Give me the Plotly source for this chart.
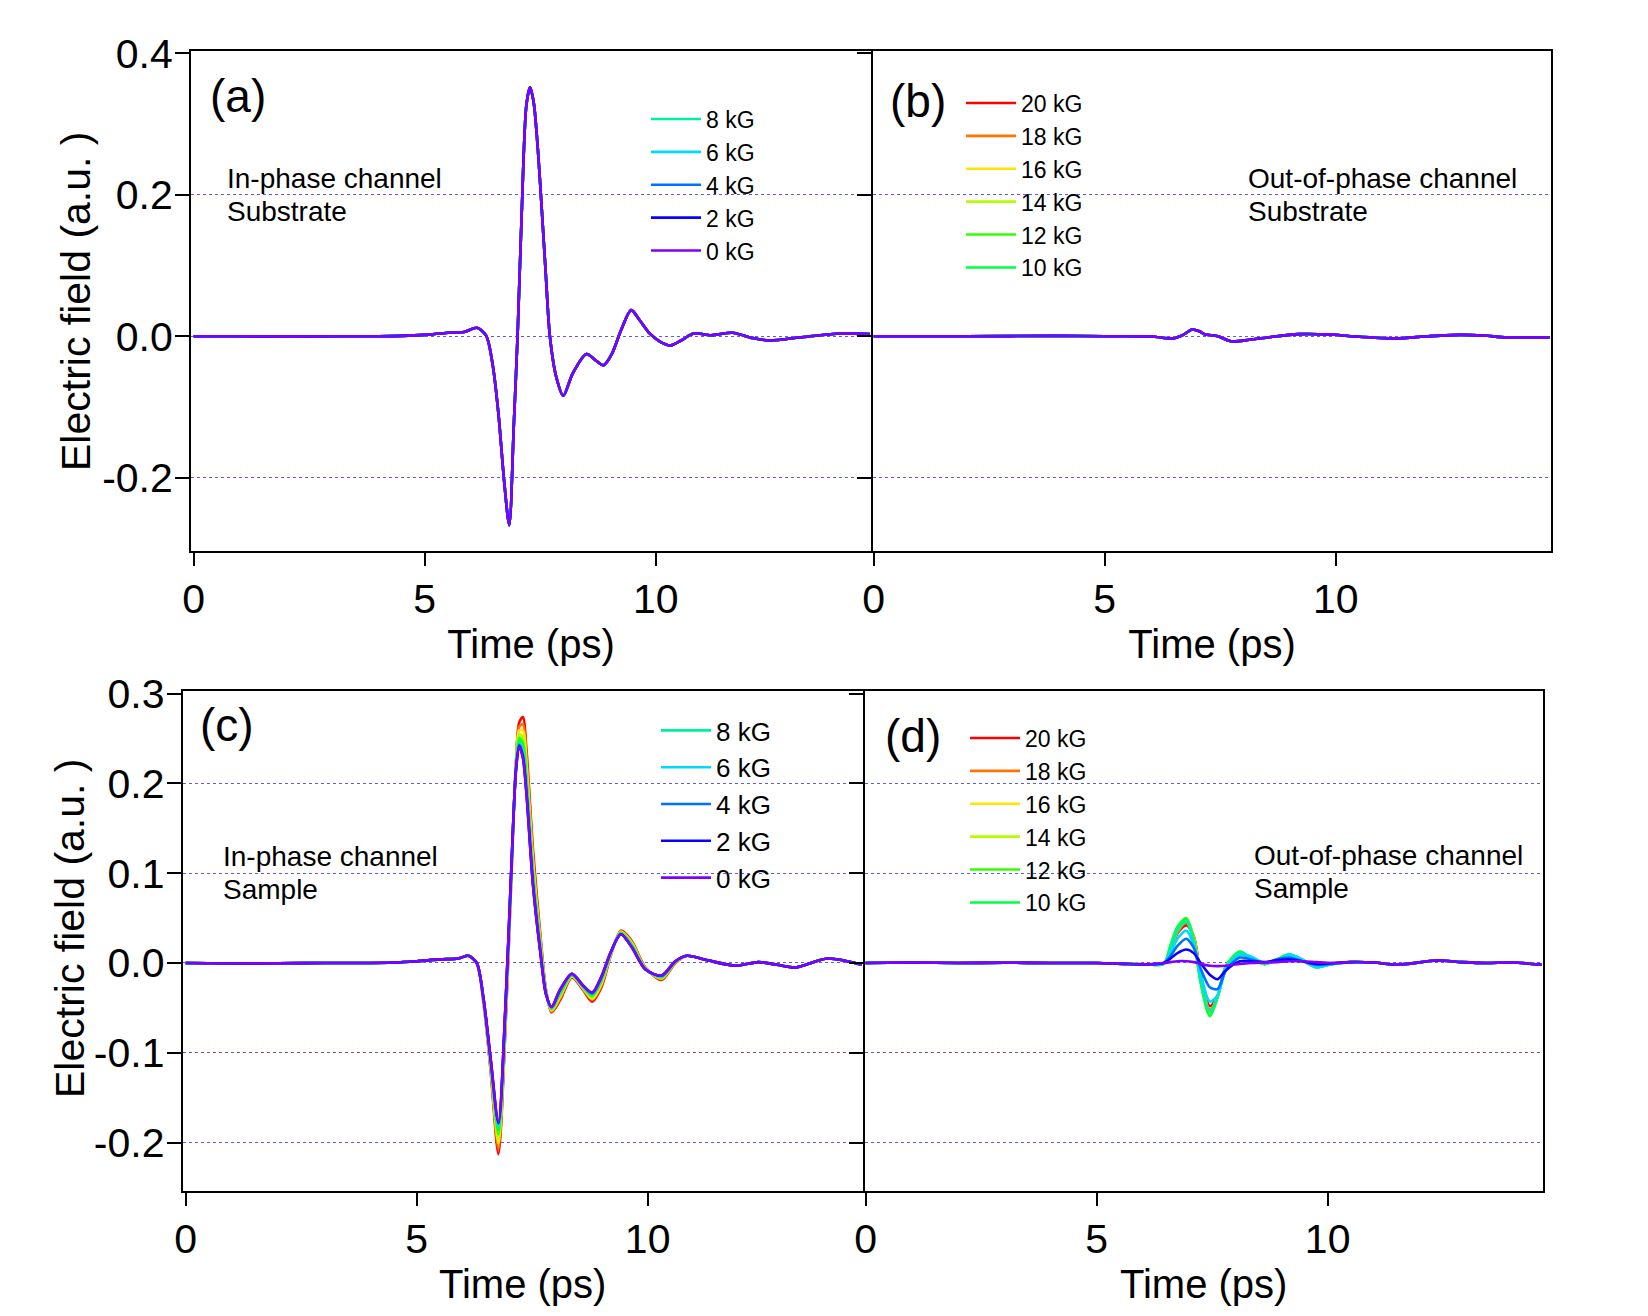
import plotly.graph_objects as go

# ---------------- data ----------------
fields_kG = [20, 18, 16, 14, 12, 10, 8, 6, 4, 2, 0]
field_labels = ["20 kG", "18 kG", "16 kG", "14 kG", "12 kG", "10 kG",
                "8 kG", "6 kG", "4 kG", "2 kG", "0 kG"]
field_colors = ["#ff0000", "#ff7300", "#ffe600", "#b3ff00", "#33ff00", "#00ff40",
                "#00f0a0", "#00d9ff", "#0070ff", "#0a00ff", "#8000ff"]

# (a) in-phase, substrate (all fields coincide)
t_a = [0.0, 1.0, 2.0, 3.0, 4.0, 4.5, 5.0, 5.5, 5.85, 6.13, 6.33, 6.48, 6.6, 6.72, 6.83,
       6.93, 7.01, 7.1, 7.2, 7.28, 7.36, 7.45, 7.53, 7.62, 7.71, 7.85, 8.0, 8.2, 8.5, 8.7,
       8.87, 9.05, 9.25, 9.47, 9.65, 9.87, 10.1, 10.32, 10.55, 10.82, 11.2, 11.66, 12.1,
       12.46, 13.2, 14.0, 14.63]
e_a = [0.0, 0.0, -0.0005, 0.0, 0.0, 0.0005, 0.002, 0.005, 0.006, 0.012, 0.001, -0.044,
       -0.112, -0.205, -0.267, -0.124, 0.0, 0.174, 0.326, 0.352, 0.330, 0.264, 0.184, 0.089,
       0.0, -0.058, -0.084, -0.053, -0.025, -0.034, -0.041, -0.025, 0.0085, 0.037, 0.023,
       0.004, -0.008, -0.013, -0.006, 0.004, 0.0015, 0.005, -0.0025, -0.006, -0.001, 0.004,
       0.003]

# (b) out-of-phase, substrate (all fields coincide)
t_b = [0.0, 2.0, 4.0, 5.0, 6.0, 6.48, 6.7, 6.89, 7.05, 7.16, 7.45, 7.74, 8.13, 8.6, 9.2,
       9.87, 10.36, 11.3, 12.0, 12.7, 13.2, 13.7, 14.63]
e_b = [0.0, 0.0, 0.0005, 0.0, -0.0003, -0.003, 0.002, 0.0095, 0.007, 0.003, 0.0, -0.007,
       -0.005, -0.001, 0.003, 0.0025, 0.0, -0.003, 0.0, 0.002, 0.001, -0.0015, -0.0015]

# (c) in-phase, sample
t_pre_c = [0.0, 1.0, 2.0, 3.0, 4.0, 4.5, 5.0, 5.5, 5.9, 6.12, 6.3]
e_pre_c = [0.0, -0.0005, -0.0003, 0.0, 0.0, 0.0005, 0.002, 0.004, 0.005, 0.008, 0.0]
t_pulse_c = [6.45, 6.6, 6.77, 6.92, 7.05, 7.15, 7.22, 7.3, 7.38, 7.52, 7.68, 7.8, 7.92,
             8.1, 8.36, 8.6, 8.8, 9.0, 9.2, 9.42, 9.65, 9.95, 10.3, 10.6]
c_20 = [-0.046, -0.120, -0.213, -0.075, 0.095, 0.225, 0.268, 0.274, 0.235, 0.125, 0.030, -0.030, -0.055, -0.042, -0.016, -0.030, -0.043, -0.027, 0.008, 0.036, 0.025, -0.005, -0.019, 0.000]
c_18 = [-0.045, -0.118, -0.207, -0.071, 0.097, 0.223, 0.263, 0.266, 0.227, 0.118, 0.027, -0.031, -0.054, -0.040, -0.015, -0.029, -0.041, -0.025, 0.009, 0.035, 0.024, -0.005, -0.018, 0.000]
c_16 = [-0.044, -0.115, -0.201, -0.066, 0.099, 0.222, 0.259, 0.259, 0.219, 0.112, 0.023, -0.032, -0.053, -0.038, -0.015, -0.028, -0.040, -0.023, 0.009, 0.035, 0.023, -0.006, -0.017, 0.001]
c_14 = [-0.044, -0.113, -0.196, -0.063, 0.101, 0.220, 0.255, 0.252, 0.211, 0.106, 0.020, -0.032, -0.052, -0.036, -0.014, -0.028, -0.038, -0.021, 0.010, 0.034, 0.022, -0.006, -0.017, 0.001]
c_12 = [-0.043, -0.111, -0.191, -0.059, 0.102, 0.219, 0.251, 0.246, 0.204, 0.100, 0.018, -0.033, -0.051, -0.035, -0.014, -0.027, -0.037, -0.020, 0.011, 0.034, 0.021, -0.006, -0.016, 0.001]
c_10 = [-0.042, -0.110, -0.186, -0.056, 0.104, 0.218, 0.248, 0.240, 0.198, 0.095, 0.015, -0.034, -0.051, -0.033, -0.013, -0.026, -0.036, -0.018, 0.011, 0.033, 0.020, -0.007, -0.015, 0.002]
c_8 = [-0.042, -0.108, -0.183, -0.053, 0.105, 0.217, 0.246, 0.236, 0.194, 0.092, 0.013, -0.034, -0.050, -0.032, -0.013, -0.026, -0.035, -0.017, 0.011, 0.033, 0.019, -0.007, -0.015, 0.002]
c_6 = [-0.042, -0.108, -0.181, -0.052, 0.106, 0.216, 0.244, 0.233, 0.191, 0.089, 0.012, -0.034, -0.050, -0.031, -0.012, -0.026, -0.034, -0.016, 0.012, 0.032, 0.019, -0.007, -0.015, 0.002]
c_4 = [-0.041, -0.107, -0.179, -0.051, 0.106, 0.216, 0.243, 0.231, 0.188, 0.087, 0.011, -0.035, -0.049, -0.031, -0.012, -0.025, -0.034, -0.016, 0.012, 0.032, 0.018, -0.007, -0.014, 0.002]
c_2 = [-0.041, -0.106, -0.178, -0.050, 0.107, 0.215, 0.242, 0.229, 0.187, 0.086, 0.011, -0.035, -0.049, -0.030, -0.012, -0.025, -0.033, -0.015, 0.012, 0.032, 0.018, -0.007, -0.014, 0.002]
c_0 = [-0.041, -0.106, -0.177, -0.049, 0.107, 0.215, 0.241, 0.228, 0.185, 0.085, 0.010, -0.035, -0.049, -0.030, -0.012, -0.025, -0.033, -0.015, 0.012, 0.032, 0.018, -0.007, -0.014, 0.002]
t_tail_c = [10.85, 11.3, 11.9, 12.4, 12.8, 13.2, 13.9, 14.63]
e_tail_c = [0.008, 0.003, -0.003, 0.001, -0.002, -0.005, 0.005, -0.002]

# (d) out-of-phase, sample
t_pre_d = [0.0, 1.0, 2.0, 3.0, 4.0, 5.0, 5.6, 6.1]
e_pre_d = [0.0, 0.0005, 0.0, 0.0003, 0.0, 0.0, -0.001, -0.0015]
t_pulse_d = [6.45, 6.6, 6.75, 6.94, 7.1, 7.25, 7.45, 7.62, 7.8, 8.1, 8.35, 8.63, 8.9,
             9.17, 9.45, 9.75, 10.1]
d_20 = [-0.001, 0.014, 0.033, 0.042, 0.030, -0.012, -0.048, -0.036, -0.004, 0.011, 0.005, -0.001, 0.004, 0.009, 0.003, -0.004, -0.001]
d_18 = [-0.001, 0.015, 0.034, 0.045, 0.030, -0.013, -0.052, -0.037, -0.004, 0.011, 0.005, -0.001, 0.004, 0.009, 0.003, -0.004, -0.001]
d_16 = [-0.001, 0.016, 0.036, 0.047, 0.029, -0.015, -0.055, -0.037, -0.004, 0.012, 0.005, -0.001, 0.004, 0.009, 0.003, -0.0045, -0.001]
d_14 = [-0.001, 0.018, 0.038, 0.049, 0.028, -0.018, -0.057, -0.038, -0.004, 0.012, 0.005, -0.001, 0.004, 0.0095, 0.003, -0.0045, -0.001]
d_12 = [-0.001, 0.019, 0.040, 0.050, 0.027, -0.020, -0.059, -0.038, -0.004, 0.0125, 0.005, -0.001, 0.004, 0.0095, 0.003, -0.0045, -0.001]
d_10 = [-0.001, 0.020, 0.040, 0.049, 0.026, -0.022, -0.059, -0.037, -0.003, 0.0127, 0.005, -0.001, 0.004, 0.0096, 0.003, -0.0046, -0.001]
d_8 = [-0.001, 0.016, 0.036, 0.046, 0.024, -0.018, -0.054, -0.037, -0.005, 0.011, 0.006, -0.001, 0.003, 0.009, 0.004, -0.005, -0.001]
d_6 = [-0.001, 0.011, 0.027, 0.036, 0.021, -0.012, -0.043, -0.036, -0.007, 0.009, 0.007, 0.0, 0.003, 0.009, 0.004, -0.004, -0.001]
d_4 = [0.0, 0.008, 0.019, 0.027, 0.017, -0.006, -0.027, -0.029, -0.008, 0.006, 0.004, 0.0, 0.004, 0.006, 0.002, -0.002, -0.001]
d_2 = [0.0, 0.005, 0.011, 0.015, 0.011, 0.0, -0.013, -0.018, -0.008, 0.002, 0.002, 0.001, 0.003, 0.004, 0.002, -0.001, 0.0]
d_0 = [0.0, 0.001, 0.002, 0.002, 0.001, -0.001, -0.003, -0.0035, -0.003, -0.001, 0.0, 0.0005, 0.001, 0.002, 0.002, 0.001, 0.0]
t_tail_d = [10.5, 11.0, 11.5, 12.36, 12.9, 13.43, 14.0, 14.63]
e_tail_d = [0.001, 0.0005, -0.002, 0.0027, 0.001, 0.0, 0.0005, -0.002]

x_ticks = [0, 5, 10]
x_ticktext = ["0", "5", "10"]
y_ticks_top = [0.4, 0.2, 0.0, -0.2]
y_ticktext_top = ["0.4", "0.2", "0.0", "-0.2"]
y_grid_top = [0.2, 0.0, -0.2]
y_ticks_bot = [0.3, 0.2, 0.1, 0.0, -0.1, -0.2]
y_ticktext_bot = ["0.3", "0.2", "0.1", "0.0", "-0.1", "-0.2"]
y_grid_bot = [0.2, 0.1, 0.0, -0.1, -0.2]

pulses_c = [c_20, c_18, c_16, c_14, c_12, c_10, c_8, c_6, c_4, c_2, c_0]
pulses_d = [d_20, d_18, d_16, d_14, d_12, d_10, d_8, d_6, d_4, d_2, d_0]

# ---------------- layout helpers ----------------
FONT = "Liberation Sans, Arial, Helvetica, sans-serif"
OFF = 8            # default page body margin
FW, FH = 1640, 1308


def px_x(p):
    return (p - OFF) / FW


def px_y(p):
    return 1 - (p - OFF) / FH


fig = go.Figure()

panels = [
    ("x", "y", "legend"),
    ("x2", "y2", "legend2"),
    ("x3", "y3", "legend3"),
    ("x4", "y4", "legend4"),
]

for i, (lab, col) in enumerate(zip(field_labels, field_colors)):
    low = fields_kG[i] <= 8
    series = [
        (t_a, e_a, low),
        (t_b, e_b, not low),
        (t_pre_c + t_pulse_c + t_tail_c, e_pre_c + pulses_c[i] + e_tail_c, low),
        (t_pre_d + t_pulse_d + t_tail_d, e_pre_d + pulses_d[i] + e_tail_d, not low),
    ]
    for (xa, ya, lg), (tx, ey, show) in zip(panels, series):
        fig.add_trace(go.Scatter(
            x=tx, y=ey, mode="lines", name=lab,
            line=dict(color=col, width=2.6, shape="spline", smoothing=0.8),
            xaxis=xa, yaxis=ya, legend=lg, showlegend=show,
        ))

top_dom = [px_y(551), px_y(51.3)]
bot_dom = [px_y(1191), px_y(691)]

axis_common = dict(
    showline=True, linecolor="black", linewidth=2, mirror=True,
    ticks="outside", tickcolor="black", tickwidth=2,
    zeroline=False, automargin=False,
    tickfont=dict(family=FONT, size=41, color="black"),
)


def xaxis(dom, anchor, rng):
    return dict(axis_common, domain=dom, anchor=anchor, range=rng,
                tickvals=x_ticks, ticktext=x_ticktext, ticklen=13, showgrid=False,
                ticklabelstandoff=-2,
                title=dict(text="Time (ps)", font=dict(family=FONT, size=40, color="black"),
                           standoff=9))


def yaxis(dom, anchor, rng, tv, tt, gv, labels):
    return dict(axis_common, domain=dom, anchor=anchor, range=rng,
                tickvals=tv, ticktext=tt, ticklen=14, showticklabels=labels,
                ticklabelstandoff=-6, showgrid=False,
                minor=dict(tickmode="array", tickvals=gv, ticks="", showgrid=True,
                           gridcolor="rgba(60,60,255,0.85)", gridwidth=1, griddash="dot"))


fig.update_layout(
    width=FW, height=FH,
    margin=dict(l=0, r=0, t=0, b=0),
    paper_bgcolor="white", plot_bgcolor="white",
    font=dict(family=FONT, color="black"),
    xaxis=xaxis([px_x(191), px_x(871)], "y", [-0.058, 14.66]),
    xaxis2=xaxis([px_x(873), px_x(1551)], "y2", [-0.015, 14.66]),
    xaxis3=xaxis([px_x(182.7), px_x(862.7)], "y3", [-0.065, 14.655]),
    xaxis4=xaxis([px_x(864.7), px_x(1542.7)], "y4", [-0.02, 14.655]),
    yaxis=yaxis(top_dom, "x", [-0.3035, 0.4028], y_ticks_top, y_ticktext_top, y_grid_top, True),
    yaxis2=yaxis(top_dom, "x2", [-0.3035, 0.4028], y_ticks_top, y_ticktext_top, y_grid_top, False),
    yaxis3=yaxis(bot_dom, "x3", [-0.254, 0.303], y_ticks_bot, y_ticktext_bot, y_grid_bot, True),
    yaxis4=yaxis(bot_dom, "x4", [-0.254, 0.303], y_ticks_bot, y_ticktext_bot, y_grid_bot, False),
)

legend_common = dict(bgcolor="rgba(0,0,0,0)", borderwidth=0, xanchor="left", yanchor="top",
                     itemwidth=50, tracegroupgap=0)
fig.update_layout(
    legend=dict(legend_common, x=px_x(646), y=px_y(97.5), font=dict(family=FONT, size=23)),
    legend2=dict(legend_common, x=px_x(961), y=px_y(81.5), font=dict(family=FONT, size=23)),
    legend3=dict(legend_common, x=px_x(656), y=px_y(707), font=dict(family=FONT, size=26)),
    legend4=dict(legend_common, x=px_x(965), y=px_y(716.5), font=dict(family=FONT, size=23)),
)

ann = []
# y-axis titles
for cx, cy in [(76, 301), (70, 928)]:
    ann.append(dict(text="Electric field (a.u. )", x=px_x(cx), y=px_y(cy), xref="paper",
                    yref="paper", xanchor="center", yanchor="middle", textangle=-90,
                    showarrow=False, font=dict(family=FONT, size=41, color="black")))
# panel labels
for txt, lx, cy in [("(a)", 208, 96), ("(b)", 888, 101), ("(c)", 198, 725), ("(d)", 883, 736)]:
    ann.append(dict(text=txt, x=px_x(lx), y=px_y(cy), xref="paper", yref="paper",
                    xanchor="left", yanchor="middle", showarrow=False,
                    font=dict(family=FONT, size=46, color="black")))
# channel descriptions (one annotation per line)
for txt, lx, cy in [("In-phase channel", 225, 178.7), ("Substrate", 225, 211.3),
                    ("Out-of-phase channel", 1245.5, 178.7), ("Substrate", 1245.5, 211.3),
                    ("In-phase channel", 221, 856.6), ("Sample", 221, 889.2),
                    ("Out-of-phase channel", 1252, 855.5), ("Sample", 1252, 888)]:
    ann.append(dict(text=txt, x=px_x(lx), y=px_y(cy), xref="paper", yref="paper",
                    xanchor="left", yanchor="middle", align="left", showarrow=False,
                    font=dict(family=FONT, size=28, color="black")))
fig.update_layout(annotations=ann)

fig.write_html("out.html")
